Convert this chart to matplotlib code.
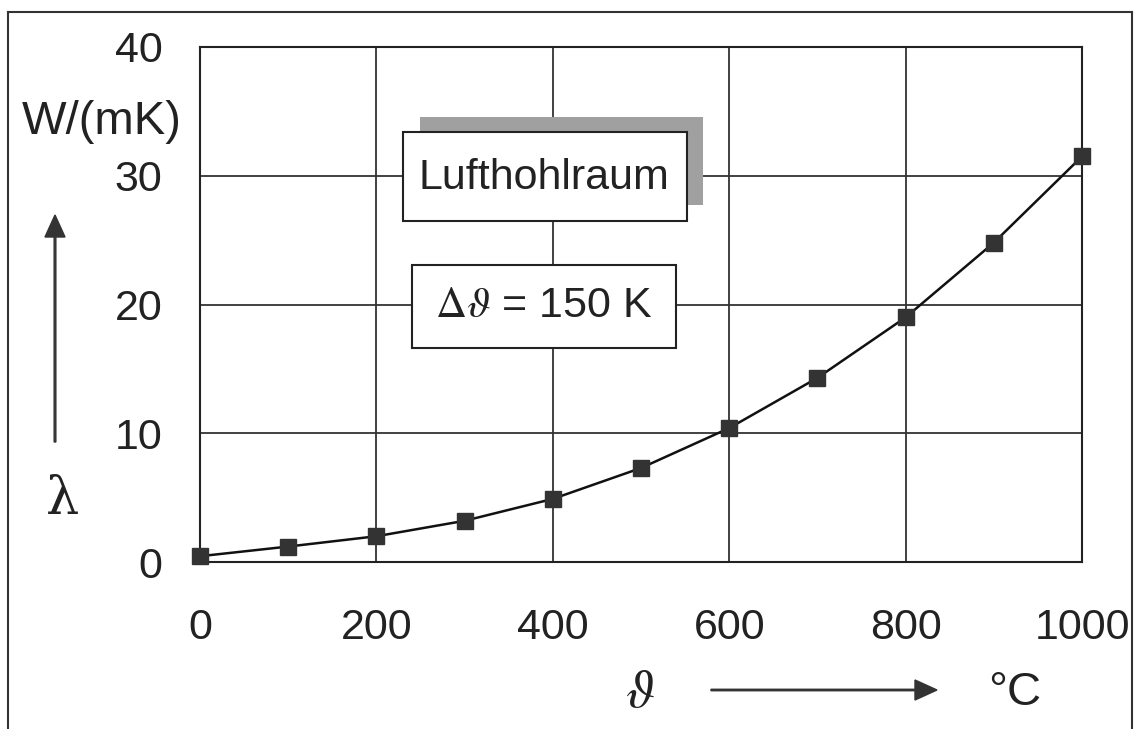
import matplotlib
matplotlib.use("Agg")
import matplotlib.pyplot as plt
from matplotlib.patches import Rectangle, FancyArrow
from matplotlib.lines import Line2D

# data
temperature = [0, 100, 200, 300, 400, 500, 600, 700, 800, 900, 1000]
conductivity = [0.45, 1.2, 2.0, 3.2, 4.9, 7.3, 10.4, 14.3, 19.0, 24.8, 31.5]
x_ticks = [0, 200, 400, 600, 800, 1000]
y_ticks = [0, 10, 20, 30, 40]

W, H = 1141, 729
plt.rcParams['font.family'] = ['Liberation Sans', 'DejaVu Sans']
plt.rcParams['mathtext.fontset'] = 'stix'

fig = plt.figure(figsize=(W / 100, H / 100), dpi=100)
fig.patch.set_facecolor('white')


def fx(px):
    return px / W


def fy(py):
    return 1 - py / H


ax = fig.add_axes([fx(200), fy(562), fx(1082) - fx(200), fy(47) - fy(562)])
ax.set_xlim(0, 1000)
ax.set_ylim(0, 40)
ax.set_xticks(x_ticks)
ax.set_yticks(y_ticks)
ax.tick_params(length=0, labelsize=31, colors='#222222')
ax.tick_params(axis='y', pad=27)
ax.tick_params(axis='x', pad=33)
ax.grid(True, color='#333333', linewidth=1.3)
ax.set_axisbelow(True)
for s in ax.spines.values():
    s.set_color('#222222')
    s.set_linewidth(1.5)

ax.plot(temperature, conductivity, color='#111111', linewidth=1.8,
        marker='s', markersize=11, markerfacecolor='#333333',
        markeredgecolor='#333333', clip_on=False, zorder=5)

# outer frame
for xs, ys in [([8, 8], [12, 740]), ([8, 1132], [12, 12]), ([1132, 1132], [12, 740])]:
    fig.add_artist(Line2D([fx(v) for v in xs], [fy(v) for v in ys],
                          color='#333333', linewidth=1.5))


def box(x0, y0, x1, y1, **kw):
    fig.add_artist(Rectangle((fx(x0), fy(y1)), fx(x1) - fx(x0), fy(y0) - fy(y1),
                             transform=fig.transFigure, **kw))


# shadowed label box
box(420, 117, 703, 205, facecolor='#a0a0a0', edgecolor='none', zorder=2)
box(403, 132, 687, 221, facecolor='white', edgecolor='#222222', linewidth=1.5, zorder=3)
fig.text(fx(544), fy(178), 'Lufthohlraum', fontsize=31, ha='center', va='center',
         color='#222222', zorder=4)

box(412, 265, 676, 348, facecolor='white', edgecolor='#222222', linewidth=1.5, zorder=3)
fig.text(fx(544), fy(306), r'$\Delta\vartheta$ = 150 K', fontsize=31, ha='center',
         va='center', color='#222222', zorder=4)

# y axis label
fig.text(fx(102), fy(134), 'W/(mK)', fontsize=34, ha='center', va='baseline', color='#222222')
fig.text(fx(63), fy(500), 'λ', fontsize=38, ha='center', va='center', color='#222222',
         family=['DejaVu Serif'])
fig.add_artist(FancyArrow(fx(55), fy(442), 0, fy(215) - fy(442), width=0.0015,
                          head_width=fx(20), head_length=fy(0) - fy(22),
                          length_includes_head=True, color='#333333',
                          transform=fig.transFigure))

# x axis label
fig.text(fx(640), fy(693), r'$\vartheta$', fontsize=38, ha='center', va='center', color='#222222')
fig.add_artist(FancyArrow(fx(711), fy(690), fx(937) - fx(711), 0, width=0.002,
                          head_width=fy(0) - fy(20), head_length=fx(22),
                          length_includes_head=True, color='#333333',
                          transform=fig.transFigure))
fig.text(fx(1015), fy(705), '°C', fontsize=34, ha='center', va='baseline', color='#222222')

fig.savefig('out.png', dpi=100, facecolor='white')
